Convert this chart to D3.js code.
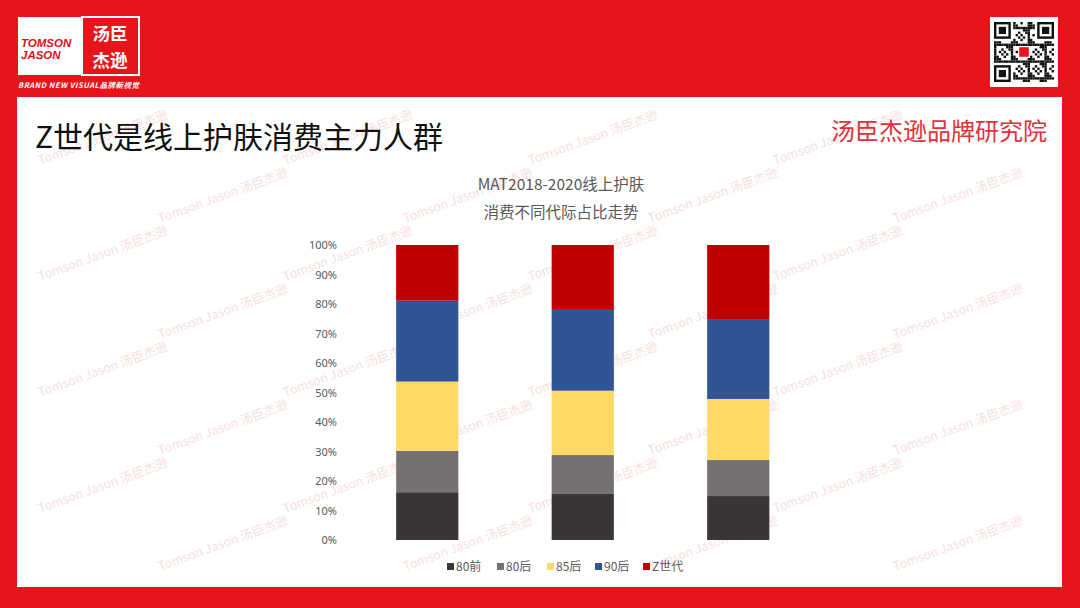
<!DOCTYPE html>
<html><head><meta charset="utf-8">
<script src="https://cdn.jsdelivr.net/npm/d3@7/dist/d3.min.js"></script>
<style>html,body{margin:0;padding:0;background:#e8141b;}svg{display:block;}</style>
</head><body>
<svg id="c" width="1080" height="608"></svg>
<script>
// ---- data ----
const categories = ["MAT2018", "MAT2019", "MAT2020"];
const seriesNames = ["80前", "80后", "85后", "90后", "Z世代"];
const s80q = [16.2, 15.6, 14.9];
const s80h = [14.0, 13.2, 12.2];
const s85h = [23.5, 21.8, 20.7];
const s90h = [27.4, 27.4, 27.1];
const sZ   = [18.9, 22.0, 25.1];
const yTicks = [0,10,20,30,40,50,60,70,80,90,100];
const colors = ["#3a3536", "#767171", "#ffd966", "#2f5597", "#c00000"];

const svg = d3.select("#c");
const cjk = "'Noto Sans CJK SC','Microsoft YaHei',sans-serif";

// background
svg.append("rect").attr("width",1080).attr("height",608).attr("fill","#e8141b");
svg.append("rect").attr("x",17).attr("y",97).attr("width",1045).attr("height",490).attr("fill","#ffffff");

// watermarks (kept inside the white panel)
const wm = svg.append("g");
for (let r = 0; r < 8; r++) {
  for (let c = 0; c < 4; c++) {
    const x = 40 + c*245 + (r%2)*120;
    const y = 165 + r*58;
    if (x > 905) continue;
    wm.append("text").attr("transform",`translate(${x},${y}) rotate(-20)`)
      .attr("font-family",cjk).attr("font-size",12.5).attr("fill","#f7d9d9").attr("opacity",0.8)
      .text("Tomson Jason 汤臣杰逊");
  }
}

// logo
svg.append("rect").attr("x",18).attr("y",17).attr("width",64).attr("height",58).attr("fill","#fff");
svg.append("rect").attr("x",82).attr("y",17).attr("width",57).attr("height",58).attr("fill","#e8141b").attr("stroke","#fff").attr("stroke-width",2);
svg.append("text").attr("x",21).attr("y",47).attr("font-family","'Liberation Sans',Arial,sans-serif").attr("font-weight","bold").attr("font-style","italic").attr("font-size",11.5).attr("fill","#d8141b").text("TOMSON");
svg.append("text").attr("x",21).attr("y",59).attr("font-family","'Liberation Sans',Arial,sans-serif").attr("font-weight","bold").attr("font-style","italic").attr("font-size",11.5).attr("fill","#d8141b").text("JASON");
svg.append("text").attr("x",110).attr("y",40).attr("text-anchor","middle").attr("font-family",cjk).attr("font-weight","bold").attr("font-size",17.5).attr("fill","#fff").text("汤臣");
svg.append("text").attr("x",110).attr("y",67).attr("text-anchor","middle").attr("font-family",cjk).attr("font-weight","bold").attr("font-size",17.5).attr("fill","#fff").text("杰逊");
svg.append("text").attr("x",18).attr("y",88).attr("font-family",cjk).attr("font-weight","bold").attr("font-style","italic").attr("font-size",7.5).attr("fill","#fff").attr("textLength",121).text("BRAND NEW VISUAL品牌新视觉");

// QR-like code
const qr = svg.append("g").attr("transform","translate(990,17)");
qr.append("rect").attr("width",68).attr("height",70).attr("fill","#fff");
const n = 25, cs = 2.4, ox = 4, oy = 5;
function finder(gx, gy){
  qr.append("rect").attr("x",ox+gx*cs).attr("y",oy+gy*cs).attr("width",7*cs).attr("height",7*cs).attr("fill","#111");
  qr.append("rect").attr("x",ox+(gx+1)*cs).attr("y",oy+(gy+1)*cs).attr("width",5*cs).attr("height",5*cs).attr("fill","#fff");
  qr.append("rect").attr("x",ox+(gx+2)*cs).attr("y",oy+(gy+2)*cs).attr("width",3*cs).attr("height",3*cs).attr("fill","#111");
}
for (let i=0;i<n;i++) for (let j=0;j<n;j++){
  const inF = (i<8&&j<8)||(i>=n-8&&j<8)||(i<8&&j>=n-8);
  const inC = i>=10&&i<15&&j>=10&&j<15;
  if (inF||inC) continue;
  const h = ((i*37 + j*91 + i*j*13) % 7);
  if (h<3) qr.append("rect").attr("x",ox+i*cs).attr("y",oy+j*cs).attr("width",cs).attr("height",cs).attr("fill","#111");
}
finder(0,0); finder(n-7,0); finder(0,n-7);
qr.append("rect").attr("x",ox+10.5*cs).attr("y",oy+10.5*cs).attr("width",4*cs).attr("height",4*cs).attr("fill","#e8141b");

// titles
svg.append("text").attr("x",35).attr("y",148).attr("font-family",cjk).attr("font-size",30).attr("fill","#111").text("Z世代是线上护肤消费主力人群");
svg.append("text").attr("x",1047).attr("y",140).attr("text-anchor","end").attr("font-family",cjk).attr("font-size",24).attr("fill","#e0313a").text("汤臣杰逊品牌研究院");
svg.append("text").attr("x",561).attr("y",190).attr("text-anchor","middle").attr("font-family",cjk).attr("font-size",15.5).attr("fill","#595959").text("MAT2018-2020线上护肤");
svg.append("text").attr("x",561).attr("y",218).attr("text-anchor","middle").attr("font-family",cjk).attr("font-size",15.5).attr("fill","#595959").text("消费不同代际占比走势");

// chart
const rows = categories.map((c,i)=>({cat:c, "80前":s80q[i], "80后":s80h[i], "85后":s85h[i], "90后":s90h[i], "Z世代":sZ[i]}));
const stack = d3.stack().keys(seriesNames)(rows);
const x = d3.scaleBand().domain(categories).range([349.5,816]).paddingInner(0.6).paddingOuter(0.3);
const y = d3.scaleLinear().domain([0,100]).range([540,245]);

const yAxis = svg.append("g").attr("transform","translate(337,0)")
  .call(d3.axisLeft(y).tickValues(yTicks).tickFormat(d=>d+"%").tickSize(0).tickPadding(0));
yAxis.select(".domain").remove();
yAxis.selectAll("text").attr("font-family","'Noto Sans',sans-serif").attr("font-size",11).attr("fill","#595959");

const g = svg.append("g");
stack.forEach((s,k)=>{
  g.selectAll(null).data(s).enter().append("rect")
    .attr("x",d=>x(d.data.cat)).attr("width",x.bandwidth())
    .attr("y",d=>y(d[1])).attr("height",d=>y(d[0])-y(d[1]))
    .attr("fill",colors[k]);
});

// legend
const lx = [447, 497, 547, 595, 643];
const lg = svg.append("g");
seriesNames.forEach((nm,i)=>{
  lg.append("rect").attr("x",lx[i]).attr("y",563).attr("width",7).attr("height",7).attr("fill",colors[i]);
  lg.append("text").attr("x",lx[i]+9).attr("y",571).attr("font-family",cjk).attr("font-size",12).attr("fill","#595959").text(nm);
});
</script>
</body></html>
